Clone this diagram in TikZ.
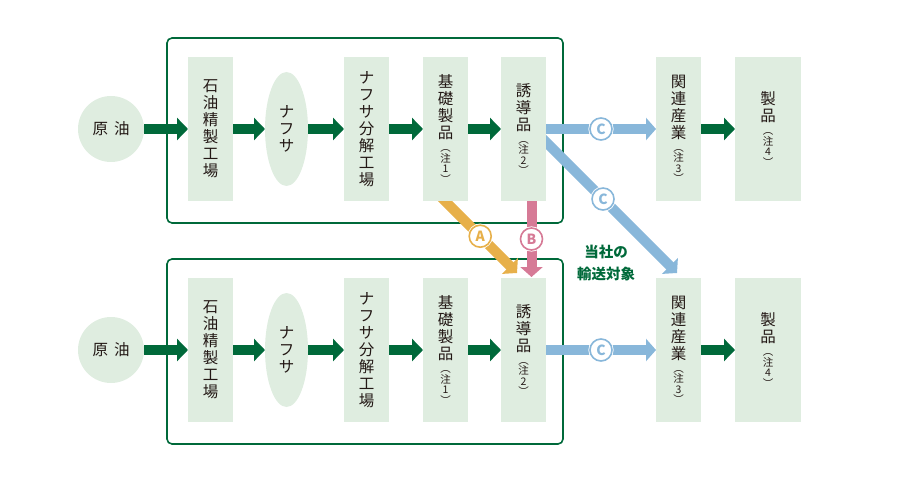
\documentclass[tikz,border=0pt]{standalone}
\usepackage{fontspec}
\setmainfont{Noto Sans CJK JP}
\usetikzlibrary{arrows.meta,positioning,shapes.geometric,backgrounds}
\definecolor{ink}{HTML}{231815}
\definecolor{boxgreen}{HTML}{DFEDE0}
\definecolor{flowgreen}{HTML}{00693A}
\definecolor{shipblue}{HTML}{88B7DA}
\definecolor{amber}{HTML}{E7B04A}
\definecolor{rose}{HTML}{D67A96}
\newcommand\nf{\fontsize{10.5}{17}\selectfont}
\newcommand\chu[1]{\\[-4pt]\nf ︵\\[-6.5pt]\nf 注\\[-6.5pt]\nf #1\\[-6.5pt]\nf ︶}
\tikzset{
  stage/.style={fill=boxgreen,minimum width=45pt,minimum height=144pt,inner sep=0pt,outer sep=0pt,
    align=center,text=ink,font=\fontsize{15.5}{17}\selectfont},
  feed/.style={circle,fill=boxgreen,minimum size=66pt,inner sep=0pt,outer sep=0pt,
    text=ink,font=\fontsize{15.5}{17}\selectfont},
  oval/.style={ellipse,fill=boxgreen,minimum width=43pt,minimum height=114pt,inner sep=0pt,outer sep=0pt,
    align=center,text=ink,font=\fontsize{15.5}{17}\selectfont},
  plant/.style={draw=flowgreen,line width=1.6pt,rounded corners=5pt,
    minimum width=396pt,minimum height=185pt},
  flow/.style={-{Triangle[width=22pt,length=11pt]},line width=10pt,draw=flowgreen},
  link/.style={-{Triangle[width=22pt,length=10pt]},line width=10pt,draw=#1},
  badge/.style={circle,fill=white,draw=white,line width=0.8pt,double=#1,double distance=1.6pt,
    text=#1,minimum size=22pt,inner sep=0pt,font=\bfseries\fontsize{14}{14}\selectfont},
  caption/.style={font=\bfseries\fontsize{14.5}{22}\selectfont,text=flowgreen,align=center}
}
\begin{document}
\begin{tikzpicture}[x=1pt,y=-1pt]
  \useasboundingbox (0,0) rectangle (917,481);
  % upper chain
  \node[feed] (crude-u) at (111,129) {原\hspace{6pt}油};
  \node[stage,right=44pt of crude-u] (refinery-u) {石\\油\\精\\製\\工\\場};
  \node[oval,right=32pt of refinery-u] (naphtha-u) {ナ\\フ\\サ};
  \node[stage,right=36pt of naphtha-u] (cracker-u) {ナ\\フ\\サ\\分\\解\\工\\場};
  \node[stage,right=34pt of cracker-u] (basic-u) {基\\礎\\製\\品\chu{1}};
  \node[stage,right=33pt of basic-u] (deriv-u) {誘\\導\\品\chu{2}};
  \node[stage,right=110pt of deriv-u] (related-u) {関\\連\\産\\業\chu{3}};
  \node[stage,right=34pt of related-u,minimum width=66pt] (product-u) {製\\品\chu{4}};
  % lower chain
  \node[feed] (crude-l) at (111,350) {原\hspace{6pt}油};
  \node[stage,right=44pt of crude-l] (refinery-l) {石\\油\\精\\製\\工\\場};
  \node[oval,right=32pt of refinery-l] (naphtha-l) {ナ\\フ\\サ};
  \node[stage,right=36pt of naphtha-l] (cracker-l) {ナ\\フ\\サ\\分\\解\\工\\場};
  \node[stage,right=34pt of cracker-l] (basic-l) {基\\礎\\製\\品\chu{1}};
  \node[stage,right=33pt of basic-l] (deriv-l) {誘\\導\\品\chu{2}};
  \node[stage,right=110pt of deriv-l] (related-l) {関\\連\\産\\業\chu{3}};
  \node[stage,right=34pt of related-l,minimum width=66pt] (product-l) {製\\品\chu{4}};
  \node[caption] (target) at (606,263) {当社の\\輸送対象};
  \begin{scope}[on background layer]
    \node[plant] (plant-u) at (365,130.5) {};
    \node[plant] (plant-l) at (365,351.5) {};
    \draw[flow] (crude-u) -- (refinery-u);
    \draw[flow] (refinery-u) -- (naphtha-u);
    \draw[flow] (naphtha-u) -- (cracker-u);
    \draw[flow] (cracker-u) -- (basic-u);
    \draw[flow] (basic-u) -- (deriv-u);
    \draw[flow] (related-u) -- (product-u);
    \draw[flow] (crude-l) -- (refinery-l);
    \draw[flow] (refinery-l) -- (naphtha-l);
    \draw[flow] (naphtha-l) -- (cracker-l);
    \draw[flow] (cracker-l) -- (basic-l);
    \draw[flow] (basic-l) -- (deriv-l);
    \draw[flow] (related-l) -- (product-l);
    % shipments
    \draw[link=shipblue] (deriv-u) -- node[badge=shipblue]{C} (related-u);
    \draw[link=shipblue] (deriv-l) -- node[badge=shipblue]{C} (related-l);
    \coordinate (diag-start) at ([xshift=16.5pt,yshift=-7pt]deriv-u.center);
    \coordinate (diag-end) at ([xshift=-1.5pt,yshift=5pt]related-l.north);
    \draw[link=shipblue] (diag-start) -- node[badge=shipblue,pos=0.46]{C} (diag-end);
    \coordinate (amber-start) at ([xshift=-8.5pt,yshift=8pt]basic-u.south);
    \coordinate (amber-end) at ([xshift=-6.5pt,yshift=5pt]deriv-l.north);
    \draw[link=amber] (amber-start) -- node[badge=amber,pos=0.54]{A} (amber-end);
    \draw[link=rose] ([xshift=8pt]deriv-u.south) -- node[badge=rose]{B} ([xshift=8pt,yshift=1pt]deriv-l.north);
  \end{scope}
\end{tikzpicture}
\end{document}
